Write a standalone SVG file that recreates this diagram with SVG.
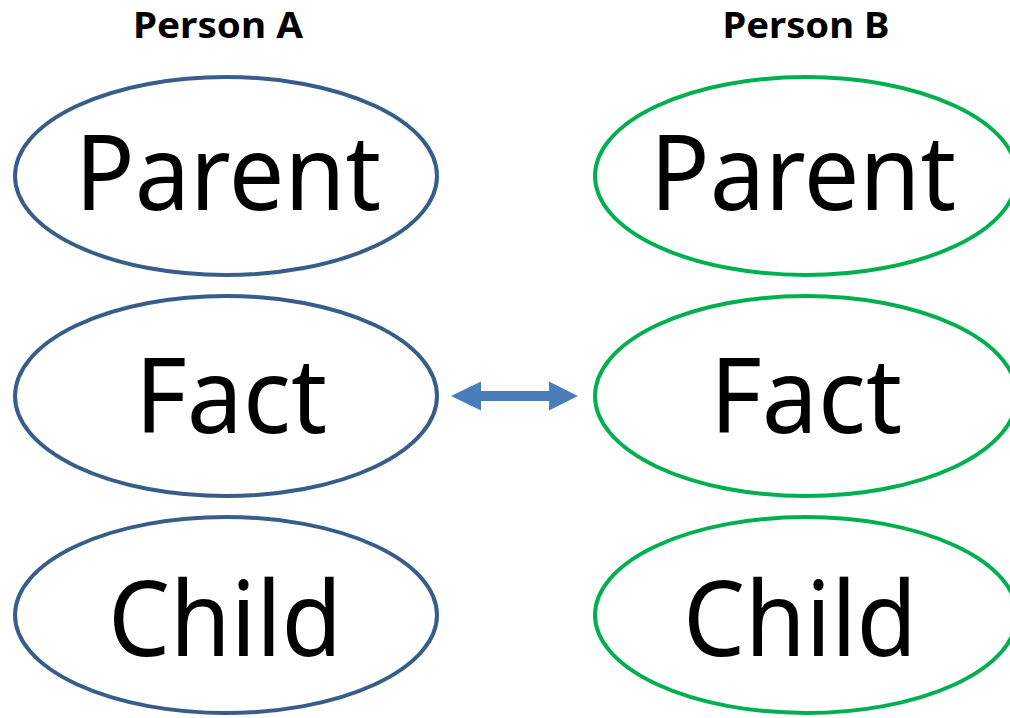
<svg xmlns="http://www.w3.org/2000/svg" width="1010" height="718" viewBox="0 0 1010 718">
<style>
.a{fill:#fff;stroke:#385D8A;stroke-width:4}
.b{fill:#fff;stroke:#00B050;stroke-width:4}
.t{font-family:"Noto Sans","Open Sans",sans-serif;font-size:104px;fill:#000;text-anchor:middle}
.h{font-family:"Noto Sans","Open Sans",sans-serif;font-size:35px;font-weight:bold;fill:#000;text-anchor:middle}
</style>
<rect width="1010" height="718" fill="#fff"/>
<g id="title-a"><text class="h" x="218" y="38" textLength="170" lengthAdjust="spacingAndGlyphs">Person A</text></g>
<g id="title-b"><text class="h" x="806" y="38" textLength="167" lengthAdjust="spacingAndGlyphs">Person B</text></g>
<g id="a-parent"><ellipse class="a" cx="226" cy="176" rx="211" ry="99"/><text class="t" x="228" y="210" textLength="306" lengthAdjust="spacingAndGlyphs">Parent</text></g>
<g id="a-fact"><ellipse class="a" cx="226" cy="396" rx="211" ry="100"/><text class="t" x="231" y="433" textLength="192" lengthAdjust="spacingAndGlyphs">Fact</text></g>
<g id="a-child"><ellipse class="a" cx="226" cy="615" rx="211" ry="98"/><text class="t" x="225" y="656" textLength="234" lengthAdjust="spacingAndGlyphs">Child</text></g>
<g id="b-parent"><ellipse class="b" cx="806" cy="176" rx="211" ry="99"/><text class="t" x="803" y="210" textLength="306" lengthAdjust="spacingAndGlyphs">Parent</text></g>
<g id="b-fact"><ellipse class="b" cx="806" cy="396" rx="211" ry="100"/><text class="t" x="806" y="433" textLength="192" lengthAdjust="spacingAndGlyphs">Fact</text></g>
<g id="b-child"><ellipse class="b" cx="806" cy="615" rx="211" ry="98"/><text class="t" x="800" y="656" textLength="234" lengthAdjust="spacingAndGlyphs">Child</text></g>
<g id="connectors">
<path d="M451,396 L481,381.5 L481,391 L549,391 L549,381.5 L578,396 L549,410.5 L549,401 L481,401 L481,410.5 Z" fill="#4A7EBB"/>
</g>
</svg>
